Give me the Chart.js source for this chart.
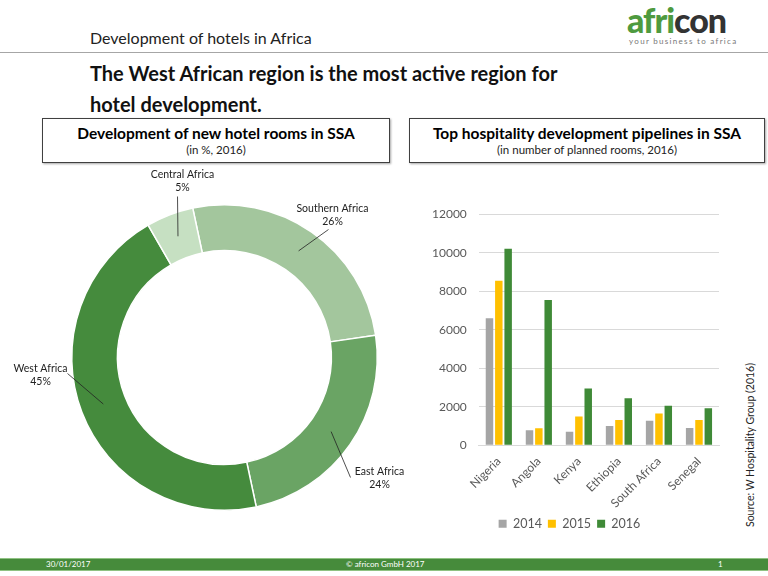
<!DOCTYPE html>
<html>
<head>
<meta charset="utf-8">
<script src="https://cdn.jsdelivr.net/npm/chart.js@4.4.1/dist/chart.umd.min.js"></script>
<style>
  html, body { margin: 0; padding: 0; background: #fff; }
  body { width: 768px; height: 576px; position: relative; overflow: hidden; font-family: Lato, "Noto Sans", sans-serif; color: #000; }
  .abs { position: absolute; }
  #header { left: 90px; top: 28px; font-size: 16px; color: #222; }
  #rule { left: 0; top: 52px; width: 768px; height: 1px; background: #a6a6a6; }
  #logo { left: 627px; top: 4px; font-size: 34px; font-weight: 900; letter-spacing: -1px; line-height: 32px; }
  #logo .g { color: #4e9a3f; }
  #logo .d { color: #333; }
  #tag { left: 629px; top: 36px; font-size: 8px; color: #777; letter-spacing: 1.3px; }
  #title { left: 90px; top: 58px; font-size: 20px; font-weight: bold; line-height: 31px; color: #111; }
  .box { top: 118px; height: 43px; border: 1px solid #404040; box-shadow: 1px 1px 2px rgba(0,0,0,0.35); text-align: center; }
  .box .h { font-size: 15.5px; font-weight: bold; margin-top: 4px; line-height: 20px; }
  .box .s { font-size: 11.5px; line-height: 14px; color: #222; }
  #box1 { left: 42px; width: 346px; }
  #box2 { left: 409px; width: 354px; }
  #source { left: 750px; top: 445px; font-size: 10.5px; color: #222; transform: translate(-50%, -50%) rotate(-90deg); white-space: nowrap; }
  #footer { left: 0; top: 558px; width: 768px; height: 11px; background: #468b3b; border-top: 1px solid #8fc283; border-bottom: 1px solid #8fc283; color: #fff; font-size: 8px; line-height: 11px; }
  #footer span { position: absolute; top: 0; }
  #donutWrap { left: 0; top: 165px; width: 420px; height: 380px; }
  #barWrap { left: 420px; top: 195px; width: 320px; height: 350px; }
</style>
</head>
<body>
<div class="abs" id="header">Development of hotels in Africa</div>
<div class="abs" id="rule"></div>
<div class="abs" id="logo"><span class="g">afri</span><span class="d">con</span></div>
<div class="abs" id="tag">your business to africa</div>
<div class="abs" id="title">The West African region is the most active region for<br>hotel development.</div>
<div class="abs box" id="box1"><div class="h">Development of new hotel rooms in SSA</div><div class="s">(in %, 2016)</div></div>
<div class="abs box" id="box2"><div class="h">Top hospitality development pipelines in SSA</div><div class="s">(in number of planned rooms, 2016)</div></div>
<div class="abs" id="donutWrap"><canvas id="donutChart"></canvas></div>
<div class="abs" id="barWrap"><canvas id="barChart"></canvas></div>
<div class="abs" id="source">Source: W Hospitality Group (2016)</div>
<div class="abs" id="footer"><span style="left:46px">30/01/2017</span><span style="left:346px">© africon GmbH 2017</span><span style="left:718px">1</span></div>

<script>
// Doughnut data
const regions = ['Southern Africa', 'East Africa', 'West Africa', 'Central Africa'];
const regionShares = [26, 24, 45, 5];
const regionColors = ['#a3c69d', '#6aa464', '#458b3d', '#c6e0c2'];

// Bar data
const countries = ['Nigeria', 'Angola', 'Kenya', 'Ethiopia', 'South Africa', 'Senegal'];
const years = ['2014', '2015', '2016'];
const rooms2014 = [6600, 780, 700, 1000, 1280, 900];
const rooms2015 = [8550, 880, 1500, 1320, 1650, 1320];
const rooms2016 = [10200, 7550, 2950, 2450, 2050, 1930];
const yTicks = [0, 2000, 4000, 6000, 8000, 10000, 12000];

const FONT = 'Lato, "Noto Sans", sans-serif';

document.addEventListener('DOMContentLoaded', function() {
    initDonutChart();
    initBarChart();
});

// label anchors relative to the doughnut centre (layout only)
const labelOffsets = [
    { dx: 108, dy: -142, lx: 104, ly: -128 },
    { dx: 155, dy: 121, lx: 126, ly: 120 },
    { dx: -184, dy: 18, lx: -157, ly: 16 },
    { dx: -42, dy: -176, lx: -47, ly: -161 }
];

const calloutPlugin = {
    id: 'callouts',
    afterDatasetsDraw(chart) {
        const ctx = chart.ctx;
        const meta = chart.getDatasetMeta(0);
        ctx.save();
        ctx.font = '10.5px ' + FONT;
        ctx.fillStyle = '#222';
        ctx.strokeStyle = '#222';
        ctx.lineWidth = 0.8;
        ctx.textAlign = 'center';
        ctx.textBaseline = 'middle';
        meta.data.forEach((arc, i) => {
            const p = arc.getProps(['x', 'y', 'startAngle', 'endAngle', 'innerRadius', 'outerRadius'], true);
            const mid = (p.startAngle + p.endAngle) / 2;
            const r = (p.innerRadius + p.outerRadius) / 2;
            const px = p.x + Math.cos(mid) * r;
            const py = p.y + Math.sin(mid) * r;
            const o = labelOffsets[i];
            ctx.beginPath();
            ctx.moveTo(px, py);
            ctx.lineTo(p.x + o.lx, p.y + o.ly);
            ctx.stroke();
            ctx.fillText(regions[i], p.x + o.dx, p.y + o.dy - 7);
            ctx.fillText(regionShares[i] + '%', p.x + o.dx, p.y + o.dy + 6);
        });
        ctx.restore();
    }
};

function initDonutChart() {
    const ctx = document.getElementById('donutChart').getContext('2d');
    new Chart(ctx, {
        type: 'doughnut',
        data: {
            labels: regions,
            datasets: [{
                data: regionShares,
                backgroundColor: regionColors,
                borderColor: '#ffffff',
                borderWidth: 1.5
            }]
        },
        options: {
            responsive: true,
            maintainAspectRatio: false,
            animation: false,
            cutout: '70%',
            rotation: -12,
            layout: { padding: { left: 71, right: 42, top: 38, bottom: 33 } },
            plugins: {
                legend: { display: false },
                tooltip: { enabled: false }
            }
        },
        plugins: [calloutPlugin]
    });
}

function initBarChart() {
    const ctx = document.getElementById('barChart').getContext('2d');
    const colors = ['#a5a5a5', '#ffc000', '#3f8a37'];
    const series = [rooms2014, rooms2015, rooms2016];
    new Chart(ctx, {
        type: 'bar',
        data: {
            labels: countries,
            datasets: years.map((y, i) => ({
                label: y,
                data: series[i],
                backgroundColor: colors[i],
                categoryPercentage: 0.7,
                barPercentage: 0.8
            }))
        },
        options: {
            responsive: true,
            maintainAspectRatio: false,
            animation: false,
            layout: { padding: { left: 0, right: 21, top: 14, bottom: 5 } },
            plugins: {
                legend: {
                    position: 'bottom',
                    labels: { boxWidth: 8, boxHeight: 8, color: '#595959', font: { family: FONT, size: 12.5 }, padding: 6 }
                },
                tooltip: { enabled: false }
            },
            scales: {
                x: {
                    grid: { display: false },
                    border: { color: '#d9d9d9' },
                    ticks: { color: '#595959', font: { family: FONT, size: 12 }, minRotation: 45, maxRotation: 45, padding: 1 }
                },
                y: {
                    min: 0,
                    max: 12000,
                    afterBuildTicks: axis => { axis.ticks = yTicks.map(v => ({ value: v })); },
                    grid: { color: '#d9d9d9', drawTicks: false },
                    border: { display: false },
                    ticks: { color: '#595959', font: { family: FONT, size: 12 }, padding: 12, callback: v => String(v) }
                }
            }
        }
    });
}
</script>
</body>
</html>
